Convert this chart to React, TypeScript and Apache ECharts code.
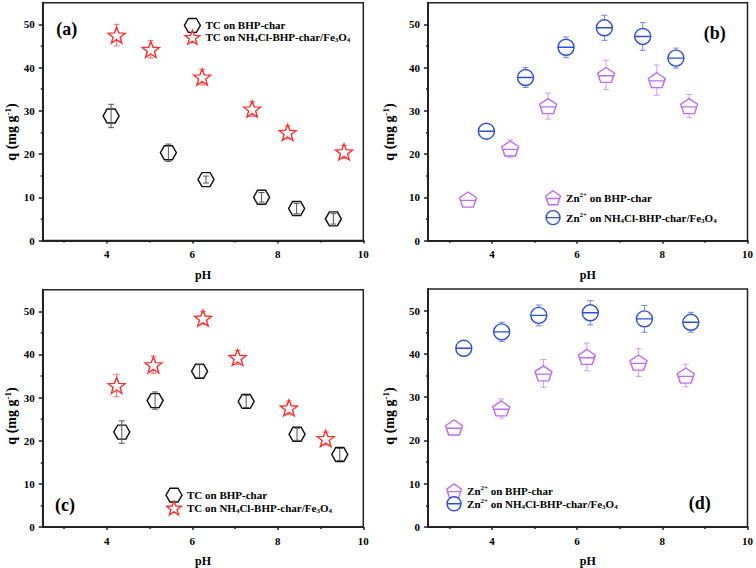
import React, { useEffect, useRef } from 'react';
import * as echarts from 'echarts';

const FONT = '"Liberation Serif", "Times New Roman", serif';

const xTicks = [4, 6, 8, 10];
const xMinor = [3, 5, 7, 9];
const yTicks = [0, 10, 20, 30, 40, 50];
const yMinor = [5, 15, 25, 35, 45];

// panel (a)
const aBhpPH = [4.10, 5.44, 6.32, 7.62, 8.44, 9.30];
const aBhpQ = [28.8, 20.3, 14.1, 10.0, 7.4, 5.0];
const aBhpErr = [2.7, 2.0, 0.8, 1.1, 1.2, 1.2];
const aNhPH = [4.23, 5.03, 6.23, 7.40, 8.23, 9.55];
const aNhQ = [47.5, 44.2, 37.8, 30.4, 25.0, 20.5];
const aNhErr = [2.5, 2.0, 1.8, 1.7, 1.5, 1.5];
// panel (b)
const bBhpPH = [3.44, 4.43, 5.32, 6.68, 7.87, 8.63];
const bBhpQ = [9.5, 21.3, 31.1, 38.3, 37.1, 31.1];
const bBhpErr = [1.2, 2.0, 3.0, 3.4, 3.5, 2.7];
const bNhPH = [3.87, 4.79, 5.74, 6.64, 7.54, 8.32];
const bNhQ = [25.3, 37.7, 44.7, 49.2, 47.2, 42.2];
const bNhErr = [1.5, 2.3, 2.4, 2.9, 3.2, 2.3];
// panel (c)
const cBhpPH = [4.35, 5.13, 6.17, 7.26, 8.45, 9.45];
const cBhpQ = [22.0, 29.3, 36.1, 29.1, 21.5, 16.8];
const cBhpErr = [2.6, 2.0, 1.5, 1.4, 1.4, 1.4];
const cNhPH = [4.23, 5.09, 6.25, 7.06, 8.26, 9.12];
const cNhQ = [32.8, 37.6, 48.4, 39.3, 27.6, 20.5];
const cNhErr = [2.6, 2.0, 1.5, 1.6, 1.6, 1.5];
// panel (d)
const dBhpPH = [3.11, 4.22, 5.21, 6.23, 7.44, 8.55];
const dBhpQ = [23.0, 27.4, 35.5, 39.3, 38.0, 35.0];
const dBhpErr = [1.5, 2.2, 3.2, 3.2, 3.2, 2.6];
const dNhPH = [3.34, 4.23, 5.10, 6.31, 7.58, 8.67];
const dNhQ = [41.3, 45.1, 48.9, 49.5, 48.1, 47.3];
const dNhErr = [1.0, 2.2, 2.4, 2.8, 3.1, 2.3];

const panelLabels = ['(a)', '(b)', '(c)', '(d)'];

const HEX = 'path://M0,50L25,6.7L75,6.7L100,50L75,93.3L25,93.3Z';
const STAR = 'path://M100,0L124.7,66L195.1,69.1L139.9,113L158.8,180.9L100,142L41.2,180.9L60.1,113L4.9,69.1L75.3,66Z';
const PENT = 'path://M100,0L195.1,69.1L158.8,180.9L41.2,180.9L4.9,69.1Z M14,100L186,100';
const CIRC = 'path://M0,50A50,50 0 1,1 100,50A50,50 0 1,1 0,50Z M0,50L100,50';

const BLACK = '#111111';
const RED = '#ff3030';
const VIOLET = '#c06cf2';
const BLUE = '#2b4fd8';

const labelText: Record<string, string> = {
  tcBhp: '{t|TC on BHP-char}',
  tcNh: '{t|TC on NH}{s|4}{t|Cl-BHP-char/Fe}{s|3}{t|O}{s|4}',
  znBhp: '{t|Zn}{p|2+}{t| on BHP-char}',
  znNh: '{t|Zn}{p|2+}{t| on NH}{s|4}{t|Cl-BHP-char/Fe}{s|3}{t|O}{s|4}',
};

const rich = {
  t: { fontFamily: FONT, fontWeight: 'bold', fontSize: 11, lineHeight: 13, color: '#000' },
  s: { fontFamily: FONT, fontWeight: 'bold', fontSize: 7, lineHeight: 7, verticalAlign: 'bottom', color: '#000' },
  p: { fontFamily: FONT, fontWeight: 'bold', fontSize: 7, lineHeight: 7, verticalAlign: 'top', color: '#000' },
};

const richTitle = {
  t: { fontFamily: FONT, fontWeight: 'bold', fontSize: 14, lineHeight: 16, color: '#000' },
  p: { fontFamily: FONT, fontWeight: 'bold', fontSize: 9, lineHeight: 9, verticalAlign: 'top', color: '#000' },
};

const grids = [
  { left: 42.7, top: 2.7, width: 320.6, height: 237.8 },
  { left: 428, top: 2.7, width: 320.7, height: 238 },
  { left: 42.7, top: 289.7, width: 320.6, height: 238 },
  { left: 428, top: 289, width: 321, height: 239.5 },
];

type SeriesDef = {
  key: string; ph: number[]; q: number[]; err: number[];
  symbol: string; size: number[]; color: string; errColor: string; errOnTop: boolean;
};

const panels: { series: SeriesDef[]; legend: { left: number; top: number; gap: number }; label: { x: number; y: number }; ytitle: { x: number; y: number } }[] = [
  {
    series: [
      { key: 'tcBhp', ph: aBhpPH, q: aBhpQ, err: aBhpErr, symbol: HEX, size: [16, 14], color: BLACK, errColor: '#555', errOnTop: true },
      { key: 'tcNh', ph: aNhPH, q: aNhQ, err: aNhErr, symbol: STAR, size: [17, 16], color: RED, errColor: '#f07070', errOnTop: false },
    ],
    legend: { left: 183.7, top: 17.8, gap: -3.5 },
    label: { x: 66.7, y: 29.3 },
    ytitle: { x: 11, y: 132 },
  },
  {
    series: [
      { key: 'znBhp', ph: bBhpPH, q: bBhpQ, err: bBhpErr, symbol: PENT, size: [17, 15], color: VIOLET, errColor: '#d49cf5', errOnTop: false },
      { key: 'znNh', ph: bNhPH, q: bNhQ, err: bNhErr, symbol: CIRC, size: [16, 16], color: BLUE, errColor: '#7088e2', errOnTop: false },
    ],
    legend: { left: 545, top: 190, gap: 4.5 },
    label: { x: 714.7, y: 33.3 },
    ytitle: { x: 389, y: 132 },
  },
  {
    series: [
      { key: 'tcBhp', ph: cBhpPH, q: cBhpQ, err: cBhpErr, symbol: HEX, size: [16, 14], color: BLACK, errColor: '#555', errOnTop: true },
      { key: 'tcNh', ph: cNhPH, q: cNhQ, err: cNhErr, symbol: STAR, size: [17, 16], color: RED, errColor: '#f07070', errOnTop: false },
    ],
    legend: { left: 165.3, top: 487.5, gap: -2.5 },
    label: { x: 65, y: 504.7 },
    ytitle: { x: 11, y: 416 },
  },
  {
    series: [
      { key: 'znBhp', ph: dBhpPH, q: dBhpQ, err: dBhpErr, symbol: PENT, size: [17, 15], color: VIOLET, errColor: '#d49cf5', errOnTop: false },
      { key: 'znNh', ph: dNhPH, q: dNhQ, err: dNhErr, symbol: CIRC, size: [16, 16], color: BLUE, errColor: '#7088e2', errOnTop: false },
    ],
    legend: { left: 446, top: 483.2, gap: -2.5 },
    label: { x: 699.7, y: 503.3 },
    ytitle: { x: 389, y: 416 },
  },
];

function buildOption() {
  const xAxis: any[] = [];
  const yAxis: any[] = [];
  const series: any[] = [];
  const legend: any[] = [];
  const graphic: any[] = [];
  const labelStyle = { fontFamily: FONT, fontWeight: 'bold', fontSize: 11, color: '#000' };

  panels.forEach((p, i) => {
    xAxis.push({
      type: 'value', gridIndex: i, min: 2.5, max: 10, position: 'bottom',
      axisLine: { onZero: false, lineStyle: { color: '#222', width: 2 } },
      axisTick: { customValues: xTicks, length: 3, lineStyle: { color: '#222', width: 1.5 } },
      axisLabel: { customValues: xTicks, margin: 8, ...labelStyle },
      splitLine: { show: false },
      name: 'pH', nameLocation: 'middle', nameGap: 28,
      nameTextStyle: { fontFamily: FONT, fontWeight: 'bold', fontSize: 12, color: '#000' },
    });
    xAxis.push({
      type: 'value', gridIndex: i, min: 2.5, max: 10, position: 'bottom',
      axisLine: { show: false, onZero: false },
      axisTick: { customValues: xMinor, length: 2, lineStyle: { color: '#222', width: 1.5 } },
      axisLabel: { show: false },
      splitLine: { show: false },
    });
    yAxis.push({
      type: 'value', gridIndex: i, min: 0, max: 55, position: 'left',
      axisLine: { show: true, onZero: false, lineStyle: { color: '#222', width: 2 } },
      axisTick: { show: true, customValues: yTicks, length: 4, lineStyle: { color: '#222', width: 1.5 } },
      axisLabel: { customValues: yTicks, margin: 8, ...labelStyle },
      splitLine: { show: false },
    });
    yAxis.push({
      type: 'value', gridIndex: i, min: 0, max: 55, position: 'left',
      axisLine: { show: false, onZero: false },
      axisTick: { show: true, customValues: yMinor, length: 2, lineStyle: { color: '#222', width: 1.5 } },
      axisLabel: { show: false },
      splitLine: { show: false },
    });

    const legendData: any[] = [];
    p.series.forEach((s) => {
      const name = `${s.key}_${i}`;
      series.push({
        type: 'scatter', name, xAxisIndex: 2 * i, yAxisIndex: 2 * i,
        data: s.ph.map((x, k) => [x, s.q[k]]),
        symbol: s.symbol, symbolSize: s.size,
        itemStyle: { color: '#ffffff', borderColor: s.color, borderWidth: 1.4, opacity: 1 },
        z: 3,
        silent: true,
      });
      const ec = s.errColor;
      series.push({
        type: 'custom', name: `${name}_err`, xAxisIndex: 2 * i, yAxisIndex: 2 * i,
        data: s.ph.map((x, k) => [x, s.q[k], s.err[k]]),
        encode: { x: 0, y: 1 },
        z: s.errOnTop ? 4 : 2,
        silent: true,
        renderItem: (params: any, api: any) => {
          const x = api.value(0), y = api.value(1), e = api.value(2);
          const top = api.coord([x, y + e]);
          const bot = api.coord([x, y - e]);
          const cap = 3;
          const style = { stroke: ec, lineWidth: 1 };
          return {
            type: 'group',
            children: [
              { type: 'line', shape: { x1: top[0], y1: top[1], x2: bot[0], y2: bot[1] }, style },
              { type: 'line', shape: { x1: top[0] - cap, y1: top[1], x2: top[0] + cap, y2: top[1] }, style },
              { type: 'line', shape: { x1: bot[0] - cap, y1: bot[1], x2: bot[0] + cap, y2: bot[1] }, style },
            ],
          };
        },
      });
      legendData.push({
        name, icon: s.symbol,
        itemStyle: { color: '#ffffff', borderColor: s.color, borderWidth: 1.4 },
      });
    });

    legend.push({
      show: true, orient: 'vertical', left: p.legend.left, top: p.legend.top,
      padding: 0, itemGap: p.legend.gap, itemWidth: 16, itemHeight: 14,
      selectedMode: false,
      data: legendData,
      formatter: (n: string) => labelText[n.split('_')[0]],
      textStyle: { fontFamily: FONT, fontWeight: 'bold', fontSize: 11, color: '#000', rich },
    });

    graphic.push({
      type: 'text', x: p.label.x, y: p.label.y, silent: true,
      style: { text: panelLabels[i], fontFamily: FONT, fontWeight: 'bold', fontSize: 18, fill: '#000', align: 'center', verticalAlign: 'middle' },
    });
    graphic.push({
      type: 'text', x: p.ytitle.x, y: p.ytitle.y, rotation: Math.PI / 2, silent: true,
      style: { text: '{t|q (mg g}{p|-1}{t|)}', rich: richTitle, align: 'center', verticalAlign: 'middle' },
    });
  });

  return {
    animation: false,
    backgroundColor: '#ffffff',
    grid: grids.map((g) => ({ ...g, show: true, borderColor: '#222', borderWidth: 1.5, backgroundColor: 'transparent' })),
    xAxis, yAxis, series, legend, graphic,
  };
}

export default function App() {
  const ref = useRef<HTMLDivElement>(null);
  useEffect(() => {
    if (!ref.current) return;
    const chart = echarts.init(ref.current, undefined, { renderer: 'svg' });
    chart.setOption(buildOption() as any);
    return () => chart.dispose();
  }, []);
  return <div ref={ref} style={{ position: 'absolute', left: 0, top: 0, width: 756, height: 568 }} />;
}
